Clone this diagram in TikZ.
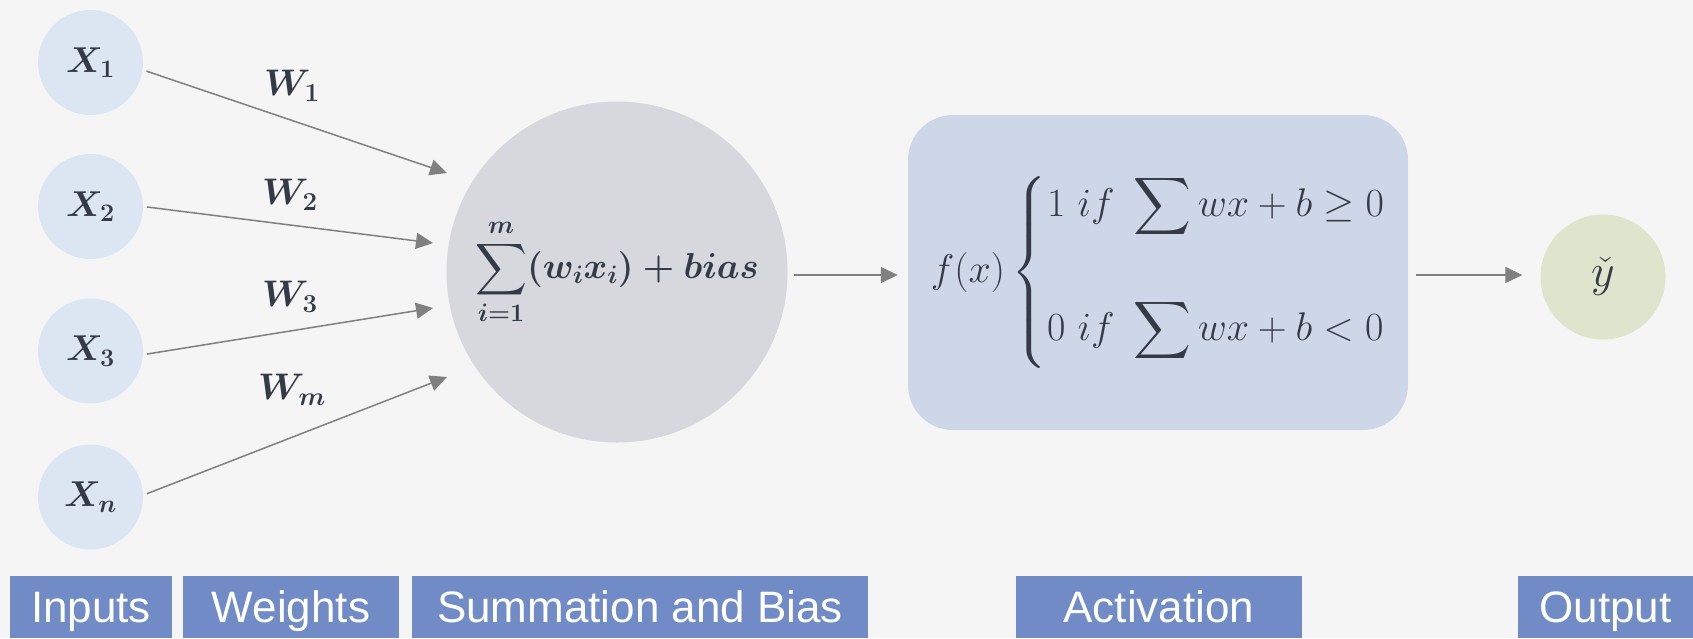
\RequirePackage{fix-cm}
\documentclass[tikz,border=0pt]{standalone}
\usepackage{amsmath}
\usepackage{amssymb}
\usepackage{fontspec}
\newfontfamily\labelfont{Liberation Sans}
\usetikzlibrary{arrows.meta,calc}

\definecolor{bgcol}{RGB}{245,245,245}
\definecolor{inpblue}{RGB}{220,230,242}
\definecolor{sumgrey}{RGB}{214,216,222}
\definecolor{actblue}{RGB}{206,215,231}
\definecolor{outgreen}{RGB}{222,229,204}
\definecolor{tagblue}{RGB}{112,139,198}
\definecolor{ink}{RGB}{52,58,70}
\definecolor{linkgrey}{RGB}{128,128,128}

\tikzset{
  inp/.style={circle, fill=inpblue, minimum size=105pt, inner sep=0pt,
    text=ink, font=\fontsize{36}{42}\selectfont\boldmath},
  wlabel/.style={inner sep=0pt, text=ink,
    font=\fontsize{37}{44}\selectfont\boldmath},
  link/.style={draw=linkgrey, line width=1.5pt,
    -{Triangle[length=17pt,width=16pt]}},
  tag/.style={fill=tagblue, text=white, inner sep=0pt,
    minimum height=62pt, text height=31.5pt, text depth=0pt,
    font=\labelfont\fontsize{44}{52}\selectfont},
}

\begin{document}
\begin{tikzpicture}[x=1pt,y=-1pt]
  % canvas
  \fill[bgcol] (0,0) rectangle (1693,638);
  \useasboundingbox (0,0) rectangle (1693,638);

  % inputs
  \node[inp] (x1) at (90.5,62.5) {$X_1$};
  \node[inp] (x2) at (90.5,206.5) {$X_2$};
  \node[inp] (x3) at (90.5,351) {$X_3$};
  \node[inp] (xn) at (90.5,497) {$X_n$};

  % weights
  \node[wlabel] (w1) at (292,86) {$W_1$};
  \node[wlabel] (w2) at (290,195) {$W_2$};
  \node[wlabel] (w3) at (290,297) {$W_3$};
  \node[wlabel] (wm) at (292,390) {$W_m$};

  % summation and bias
  \node[circle, fill=sumgrey, minimum size=341pt, inner sep=0pt, text=ink,
        font=\fontsize{36}{43}\selectfont\boldmath] (sum) at (617,272)
    {$\displaystyle\sum_{i=1}^{m}(w_i x_i)+bias$};

  % activation
  \node[rectangle, rounded corners=45pt, fill=actblue, minimum width=500pt,
        minimum height=315pt, inner sep=0pt, text=ink,
        font=\fontsize{40}{48}\selectfont] (act) at (1158,272.5)
    {$f(x)\left\{\begin{array}{@{}l@{}}
       \rule{0pt}{40pt}1\ if\ \displaystyle\sum wx+b\geq 0\\[68pt]
       0\ if\ \displaystyle\sum wx+b<0\rule[-30pt]{0pt}{30pt}
     \end{array}\right.$};

  % output
  \node[circle, fill=outgreen, minimum size=125pt, inner sep=0pt, text=ink,
        font=\fontsize{46}{54}\selectfont] (out) at (1603,277) {$\check{y}$};

  % free ends of the weighted inputs
  \coordinate (t1) at (447,173);
  \coordinate (t2) at (433,243);
  \coordinate (t3) at (433,308);
  \coordinate (tm) at (447,377);

  \draw[link, shorten <=4pt] (x1.-8) -- (t1);
  \draw[link, shorten <=4pt] (x2.east) -- (t2);
  \draw[link, shorten <=4pt] (x3.-4) -- (t3);
  \draw[link, shorten <=4pt] (xn.2) -- (tm);

  \draw[link, shorten <=6pt, shorten >=10pt]
    ([yshift=-3pt]sum.east) -- ([yshift=-3pt]sum.east -| act.west);
  \draw[link, shorten <=8pt, shorten >=18pt]
    ([yshift=-2.5pt]act.east) -- ([yshift=-2.5pt]act.east -| out.west);

  % stage labels
  \node[tag, minimum width=162pt] (lin) at (91,607) {Inputs};
  \node[tag, minimum width=216pt] (lw) at (291,607) {Weights};
  \node[tag, minimum width=456pt] (ls) at (640,607) {Summation and Bias};
  \node[tag, minimum width=286pt] (la) at (1159,607) {Activation};
  \node[tag, minimum width=175pt] (lo) at (1605.5,607) {Output};
\end{tikzpicture}
\end{document}
